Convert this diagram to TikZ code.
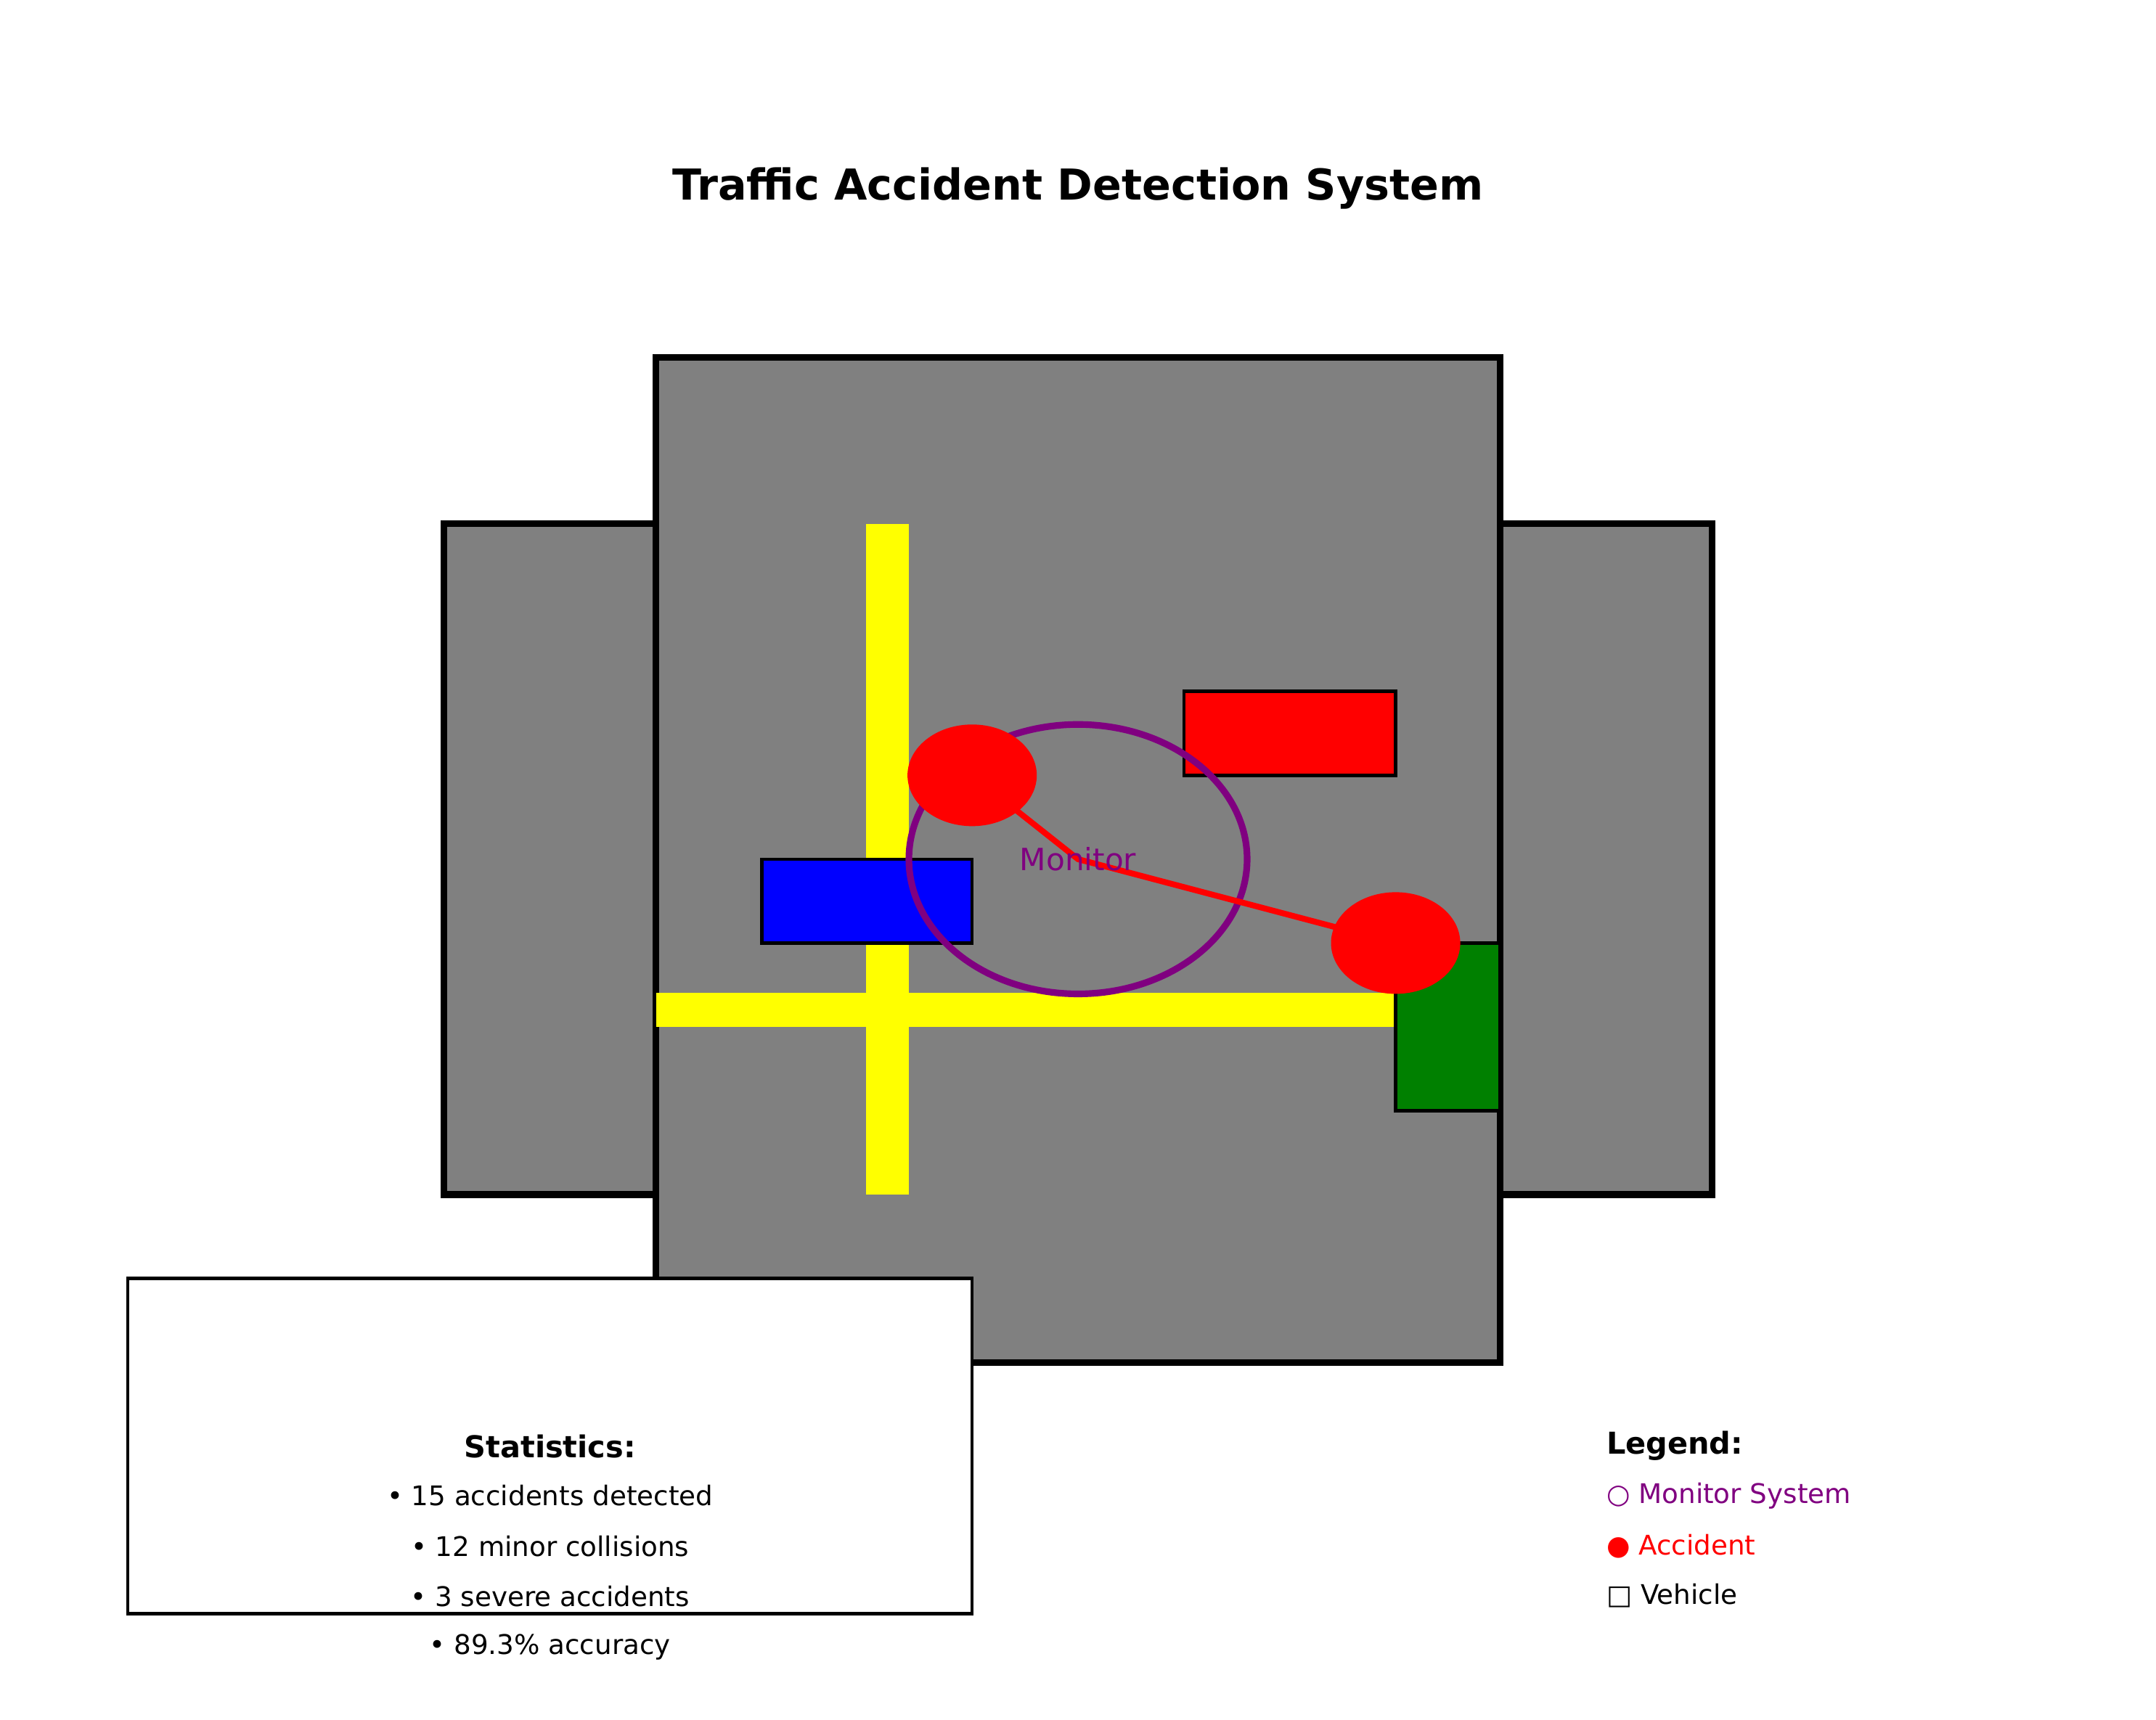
\documentclass[tikz,border=0pt]{standalone}
\usepackage{fontspec}
\setmainfont{DejaVu Sans}
\usetikzlibrary{shapes.geometric}
\definecolor{purp}{RGB}{128,0,128}
\definecolor{road}{RGB}{128,128,128}
\definecolor{yel}{RGB}{255,255,0}
\definecolor{grn}{RGB}{0,128,0}
\begin{document}
\begin{tikzpicture}[x=0.01894cm,y=-0.01894cm,
  block/.style={draw=black,line width=2.6pt,fill=road},
  veh/.style={draw=black,line width=1.3pt},
  acc/.style={ellipse,fill=red,draw=none,inner sep=0pt,minimum width=1.78cm,minimum height=1.40cm},
  txt/.style={font=\fontsize{10.6}{12}\selectfont,inner sep=0pt},
  head/.style={font=\bfseries\fontsize{11.8}{14}\selectfont,inner sep=0pt}]
\useasboundingbox (0,0) rectangle (1568,1251);
\node[font=\bfseries\fontsize{16.7}{20}\selectfont] (title) at (784,137) {Traffic Accident Detection System};
\draw[block] (323,381) rectangle (477,869);
\draw[block] (1091,381) rectangle (1245,869);
\draw[block] (477,260) rectangle (1091,991);
\fill[yel] (630,381) rectangle (661,869);
\fill[yel] (477,722) rectangle (1015,747);
\draw[veh,fill=red] (861,503) rectangle (1015,564);
\draw[veh,fill=blue] (554,625) rectangle (707,686);
\draw[veh,fill=grn] (1015,686) rectangle (1091,808);
\draw[purp,line width=2.6pt] (784,625) ellipse [x radius=123,y radius=98];
\coordinate (mc) at (784,625);
\coordinate (c1) at (707,564);
\coordinate (c2) at (1015,686);
\draw[red,line width=2.3pt] (c1) -- (mc) -- (c2);
\node[acc] (a1) at (c1) {};
\node[acc] (a2) at (c2) {};
\node[inner sep=0pt,font=\fontsize{12}{14}\selectfont,text=purp] (mon) at (784,625) {Monitor};
\draw[fill=white,line width=1.3pt] (93,930) rectangle (707,1174);
\node[head] (st) at (400,1052) {Statistics:};
\node[txt] (s1) at (400,1088) {• 15 accidents detected};
\node[txt] (s2) at (400,1125) {• 12 minor collisions};
\node[txt] (s3) at (400,1161) {• 3 severe accidents};
\node[txt] (s4) at (400,1198) {• 89.3\% accuracy};
\node[head,anchor=west] (lg) at (1168,1052) {Legend:};
\node[txt,anchor=west,text=purp] (l1) at (1168,1088) {○ Monitor System};
\node[txt,anchor=west,text=red] (l2) at (1168,1125) {● Accident};
\node[txt,anchor=west] (l3) at (1168,1161) {□ Vehicle};
\end{tikzpicture}
\end{document}
